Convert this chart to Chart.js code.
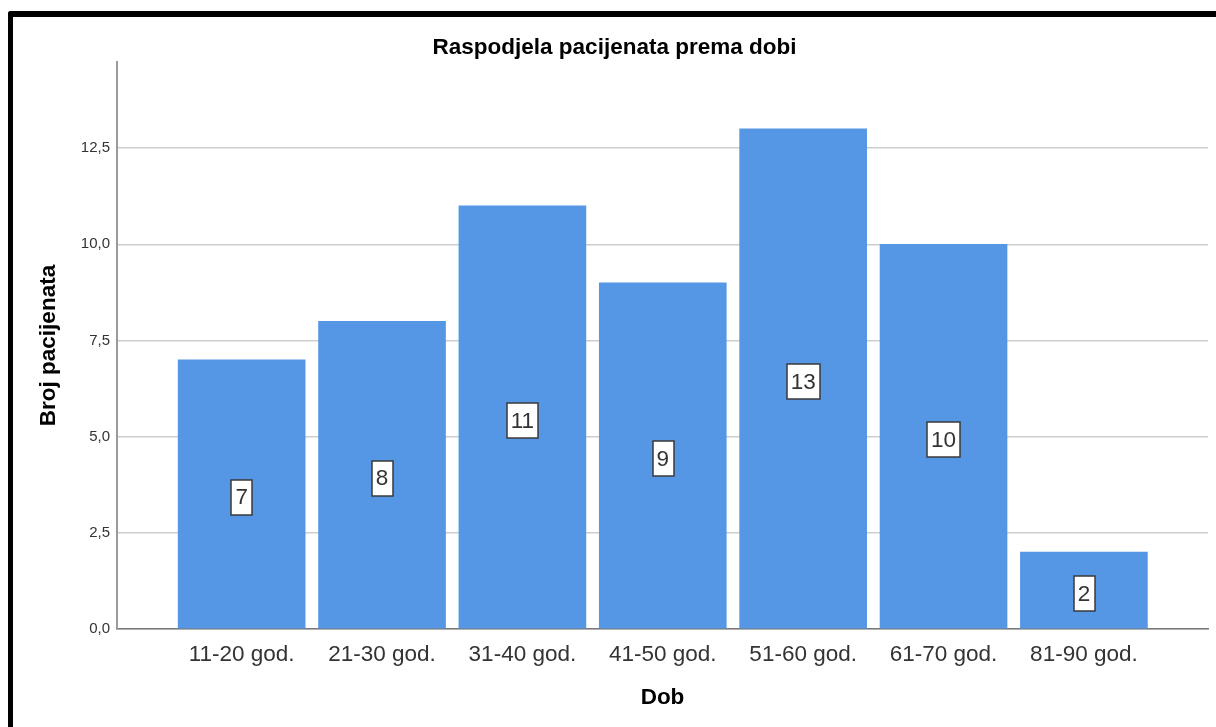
<!DOCTYPE html>
<html>
<head>
<meta charset="utf-8">
<script src="https://cdn.jsdelivr.net/npm/chart.js@4.4.1/dist/chart.umd.min.js"></script>
<style>
  html, body { margin: 0; padding: 0; background: #ffffff; overflow: hidden; }
  #wrap { position: absolute; left: 0; top: 0; width: 1216px; height: 727px; }
  #frame { position: absolute; left: 8px; top: 11px; width: 1230px; height: 740px;
           border-top: 6px solid #000; border-left: 5px solid #000; border-top-left-radius: 3px;
           pointer-events: none; box-sizing: border-box; }
</style>
</head>
<body>
<div id="wrap"><canvas id="c" width="1216" height="727"></canvas></div>
<div id="frame"></div>
<script>
const categories = ['11-20 god.', '21-30 god.', '31-40 god.', '41-50 god.', '51-60 god.', '61-70 god.', '81-90 god.'];
const counts = [7, 8, 11, 9, 13, 10, 2];
const yTicks = [0, 2.5, 5, 7.5, 10, 12.5];

const FONT = "'Liberation Sans', Arial, sans-serif";

const valueLabels = {
  id: 'valueLabels',
  afterDatasetsDraw(chart) {
    const ctx = chart.ctx;
    const meta = chart.getDatasetMeta(0);
    ctx.save();
    ctx.font = '22.5px ' + FONT;
    ctx.textAlign = 'center';
    ctx.textBaseline = 'middle';
    meta.data.forEach((bar, i) => {
      const txt = String(counts[i]);
      const w = ctx.measureText(txt).width + 8;
      const h = 35;
      const cx = bar.x;
      const cy = (bar.y + bar.base) / 2 + 3.3;
      ctx.fillStyle = '#ffffff';
      ctx.fillRect(Math.round(cx - w / 2), Math.round(cy - h / 2), Math.round(w), h);
      ctx.strokeStyle = '#3a3a3a';
      ctx.lineWidth = 1.5;
      ctx.strokeRect(Math.round(cx - w / 2), Math.round(cy - h / 2), Math.round(w), h);
      ctx.fillStyle = '#333333';
      ctx.fillText(txt, cx, cy + 1);
    });
    ctx.restore();
  }
};

new Chart(document.getElementById('c'), {
  type: 'bar',
  data: {
    datasets: [{
      data: counts.map((v, i) => ({ x: i, y: v })),
      backgroundColor: '#5596e5',
      borderWidth: 0,
      barThickness: 127
    }]
  },
  options: {
    responsive: false,
    animation: false,
    events: [],
    layout: { padding: { left: 13, right: 0, top: 0, bottom: 0 } },
    plugins: {
      legend: { display: false },
      tooltip: { enabled: false },
      title: {
        display: true,
        text: 'Raspodjela pacijenata prema dobi',
        color: '#000000',
        font: { family: FONT, size: 22.5, weight: 'bold', lineHeight: 1.2 },
        padding: { top: 34, bottom: 1 }
      }
    },
    scales: {
      x: {
        type: 'linear',
        min: -0.888,
        max: 6.884,
        offset: false,
        afterBuildTicks(scale) { scale.ticks = categories.map((c, i) => ({ value: i })); },
        afterFit(scale) { scale.height = 98; },
        grid: { display: false, drawTicks: false },
        border: { display: true, color: '#7a7a7a', width: 1.5 },
        ticks: {
          autoSkip: false,
          maxRotation: 0,
          padding: 12,
          color: '#333333',
          font: { family: FONT, size: 22.5, lineHeight: 1.2 },
          callback: (v) => categories[Math.round(v)]
        },
        title: {
          display: true,
          text: 'Dob',
          color: '#000000',
          font: { family: FONT, size: 22.5, weight: 'bold', lineHeight: 1.2 },
          padding: { top: 0, bottom: 15.5 }
        }
      },
      y: {
        min: 0,
        max: 14.74,
        afterBuildTicks(scale) { scale.ticks = yTicks.map(v => ({ value: v })); },
        afterFit(scale) { scale.width = 104; },
        grid: { color: '#cdcdcd', lineWidth: 1.5, drawTicks: false },
        border: { display: true, color: '#9a9a9a', width: 2 },
        ticks: {
          padding: 7,
          color: '#333333',
          font: { family: FONT, size: 15 },
          callback: (v) => v.toFixed(1).replace('.', ',')
        },
        title: {
          display: true,
          text: 'Broj pacijenata',
          color: '#000000',
          font: { family: FONT, size: 22.5, weight: 'bold', lineHeight: 1.2 },
          padding: { top: 22.5, bottom: 0 }
        }
      },
      y2: {
        position: 'right',
        display: true,
        min: 0,
        max: 1,
        grid: { display: false, drawTicks: false },
        border: { display: false },
        ticks: { display: false },
        afterFit(scale) { scale.width = 8; }
      }
    }
  },
  plugins: [valueLabels]
});
</script>
</body>
</html>
